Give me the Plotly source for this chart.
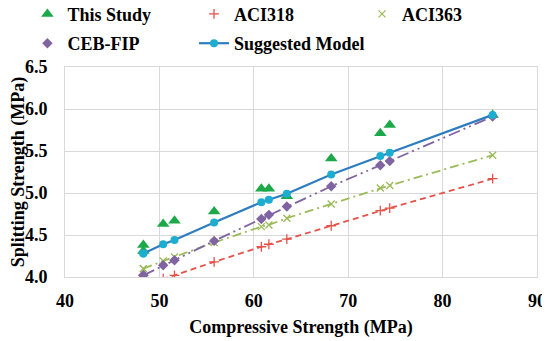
import plotly.graph_objects as go

fc = [48.3, 48.3, 50.4, 51.6, 55.8, 60.8, 61.6, 63.5, 68.2, 73.4, 74.4, 85.3]
this_study = [4.31, 4.38, 4.63, 4.67, 4.78, 5.05, 5.05, 4.96, 5.41, 5.71, 5.81, 5.93]
aci318 = [3.89, 3.89, 3.98, 4.02, 4.18, 4.36, 4.39, 4.45, 4.61, 4.79, 4.82, 5.17]
aci363 = [4.10, 4.10, 4.19, 4.24, 4.41, 4.60, 4.62, 4.70, 4.87, 5.06, 5.09, 5.45]
ceb_fip = [4.02, 4.02, 4.14, 4.20, 4.43, 4.69, 4.74, 4.84, 5.08, 5.33, 5.38, 5.91]
suggested = [4.28, 4.28, 4.39, 4.44, 4.65, 4.89, 4.92, 4.99, 5.22, 5.44, 5.48, 5.93]

x_ticks = [40, 50, 60, 70, 80, 90]
y_ticks = [4.0, 4.5, 5.0, 5.5, 6.0, 6.5]

# page body has an 8px default margin; the figure is sized to fit inside the window
W, H = 542, 333
FONT = "Liberation Serif, Times New Roman, serif"
BOLD = dict(family=FONT, size=18, color="#000000", weight="bold")
fig = go.Figure()

# dashed model lines (legend shows only their markers, as in the reference)
fig.add_trace(go.Scatter(x=fc, y=aci318, mode="lines", showlegend=False, hoverinfo="skip",
                         line=dict(color="#E5524A", width=1.8, dash="6px,4px")))
fig.add_trace(go.Scatter(x=fc, y=aci363, mode="lines", showlegend=False, hoverinfo="skip",
                         line=dict(color="#9BBB59", width=1.8, dash="9px,4px,2px,4px")))
fig.add_trace(go.Scatter(x=fc, y=ceb_fip, mode="lines", showlegend=False, hoverinfo="skip",
                         line=dict(color="#8064A2", width=1.8, dash="12px,4px,2px,4px,2px,4px")))

fig.add_trace(go.Scatter(x=fc, y=this_study, mode="markers", name="This Study",
                         marker=dict(symbol="triangle-up", size=11, color="#1DA84A"),
                         legend="legend2"))
fig.add_trace(go.Scatter(x=fc, y=aci318, mode="markers", name="ACI318",
                         marker=dict(symbol="cross-thin", size=7, line=dict(color="#E5524A", width=1.3)),
                         legend="legend3"))
fig.add_trace(go.Scatter(x=fc, y=aci363, mode="markers", name="ACI363",
                         marker=dict(symbol="x-thin", size=7, line=dict(color="#9BBB59", width=1.3)),
                         legend="legend4"))
fig.add_trace(go.Scatter(x=fc, y=ceb_fip, mode="markers", name="CEB-FIP",
                         marker=dict(symbol="diamond", size=8, color="#8064A2"),
                         legend="legend5"))
fig.add_trace(go.Scatter(x=fc, y=suggested, mode="lines+markers", name="Suggested Model",
                         line=dict(color="#2E7DC0", width=2.2),
                         marker=dict(symbol="circle", size=8, color="#1DAECF"),
                         legend="legend6"))

def leg(xpx, ypx):
    return dict(orientation="h", xref="container", yref="container",
                xanchor="left", yanchor="middle",
                x=xpx / W, y=1 - ypx / H,
                font=BOLD, bgcolor="rgba(0,0,0,0)", borderwidth=0, itemwidth=30)

row1, row2 = 14.7 - 8.5, 44 - 8.5
fig.update_layout(
    width=W, height=H,
    margin=dict(l=57, r=13, t=59, b=64),
    paper_bgcolor="white", plot_bgcolor="white",
    font=BOLD,
    showlegend=True,
    legend2=leg(19.4, row1),
    legend3=leg(186, row1),
    legend4=leg(354, row1),
    legend5=leg(19.4, row2),
    legend6=leg(186, row2),
    xaxis=dict(range=[40, 90], tickvals=x_ticks, ticktext=[str(v) for v in x_ticks],
               showgrid=True, gridcolor="#D9D9D9", gridwidth=1,
               showline=True, linecolor="#D9D9D9", linewidth=1, mirror=True,
               zeroline=False, ticks="", ticklabelstandoff=7, automargin=False,
               tickfont=BOLD,
               title=dict(text="Compressive Strength (MPa)", standoff=10, font=BOLD)),
    yaxis=dict(range=[4.0, 6.5], tickvals=y_ticks, ticktext=[f"{v:.1f}" for v in y_ticks],
               showgrid=True, gridcolor="#D9D9D9", gridwidth=1,
               showline=True, linecolor="#D9D9D9", linewidth=1, mirror=True,
               zeroline=False, ticks="", ticklabelstandoff=13, automargin=False,
               tickfont=BOLD,
               title=dict(text="Splitting Strength (MPa)", standoff=0, font=BOLD)),
)

fig.write_html("out.html")
